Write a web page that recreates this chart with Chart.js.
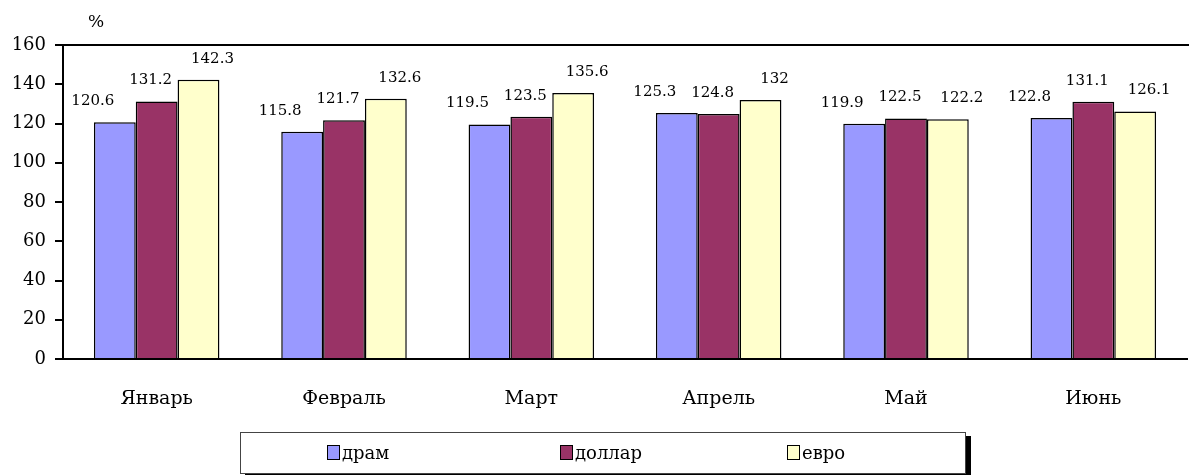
<!DOCTYPE html>
<html>
<head>
<meta charset="utf-8">
<script src="https://cdn.jsdelivr.net/npm/chart.js@4"></script>
<style>
  html, body { margin: 0; padding: 0; background: #fff; }
  #wrap { position: relative; width: 1189px; height: 475px; overflow: hidden; }
  #legend {
    position: absolute; left: 240px; top: 432px; width: 724px; height: 40px;
    border: 1px solid #444; box-shadow: 5px 4px 0 #000; background: #fff;
    font-family: "DejaVu Serif", serif; font-size: 18px; color: #000;
  }
  .item { position: absolute; top: 9px; display: flex; align-items: center; }
  .box { width: 11px; height: 13px; border: 1.5px solid #000; margin-right: 2px; }
</style>
</head>
<body>
<div id="wrap">
  <canvas id="chart" width="1189" height="475"></canvas>
  <div id="legend"></div>
</div>
<script>
const months = ['Январь', 'Февраль', 'Март', 'Апрель', 'Май', 'Июнь'];
const dram = [120.6, 115.8, 119.5, 125.3, 119.9, 122.8];
const dollar = [131.2, 121.7, 123.5, 124.8, 122.5, 131.1];
const euro = [142.3, 132.6, 135.6, 132, 122.2, 126.1];
const seriesNames = ['драм', 'доллар', 'евро'];
const seriesColors = ['#9999ff', '#993366', '#ffffcc'];

const font = 'DejaVu Serif';

// Data labels above bars, shifted a little per series like the original
const labelOffsets = [-22, -6, 14];
const barLabels = {
  id: 'barLabels',
  afterDatasetsDraw(chart) {
    const c = chart.ctx;
    c.save();
    c.font = '15px "' + font + '"';
    c.fillStyle = '#000';
    c.textAlign = 'center';
    c.textBaseline = 'middle';
    chart.data.datasets.forEach((ds, i) => {
      chart.getDatasetMeta(i).data.forEach((bar, j) => {
        c.fillText(String(ds.data[j]), bar.x + labelOffsets[i], bar.y - 21);
      });
    });
    c.restore();
  }
};

// Top frame line and the "%" unit mark
const frame = {
  id: 'frame',
  afterDraw(chart) {
    const a = chart.chartArea;
    const c = chart.ctx;
    c.save();
    c.strokeStyle = '#000';
    c.lineWidth = 2;
    c.beginPath();
    c.moveTo(a.left - 8, a.top);
    c.lineTo(chart.width, a.top);
    c.stroke();
    c.font = '17px "' + font + '"';
    c.fillStyle = '#000';
    c.textAlign = 'left';
    c.textBaseline = 'middle';
    c.fillText('%', 88, 23);
    c.restore();
  }
};

const chart = new Chart(document.getElementById('chart').getContext('2d'), {
  type: 'bar',
  data: {
    labels: months,
    datasets: [dram, dollar, euro].map((d, i) => ({
      label: seriesNames[i],
      data: d,
      backgroundColor: seriesColors[i],
      borderColor: '#000',
      borderWidth: 1.5,
      borderSkipped: 'bottom',
      categoryPercentage: 0.67,
      barPercentage: 1
    }))
  },
  options: {
    responsive: false,
    animation: false,
    layout: { padding: { top: 45, right: 2, bottom: 52, left: 0 } },
    plugins: { legend: { display: false }, tooltip: { enabled: false } },
    scales: {
      y: {
        min: 0, max: 160,
        ticks: { stepSize: 20, color: '#000', font: { family: font, size: 18 }, padding: 9 },
        grid: { drawOnChartArea: false, color: '#000', lineWidth: 2, tickLength: 8 },
        border: { color: '#000', width: 2 },
        afterFit(scale) { scale.width = 63; }
      },
      x: {
        ticks: { color: '#000', font: { family: font, size: 19 }, padding: 21 },
        grid: { display: false },
        border: { color: '#000', width: 2 },
        afterFit(scale) { scale.height = 64; }
      }
    }
  },
  plugins: [barLabels, frame]
});

// Framed legend under the chart, built from the datasets
const legendEl = document.getElementById('legend');
const legendX = [86, 319, 546];
chart.data.datasets.forEach((ds, i) => {
  const item = document.createElement('div');
  item.className = 'item';
  item.style.left = legendX[i] + 'px';
  item.innerHTML = '<span class="box" style="background:' + ds.backgroundColor + '"></span>' + ds.label;
  legendEl.appendChild(item);
});
</script>
</body>
</html>
